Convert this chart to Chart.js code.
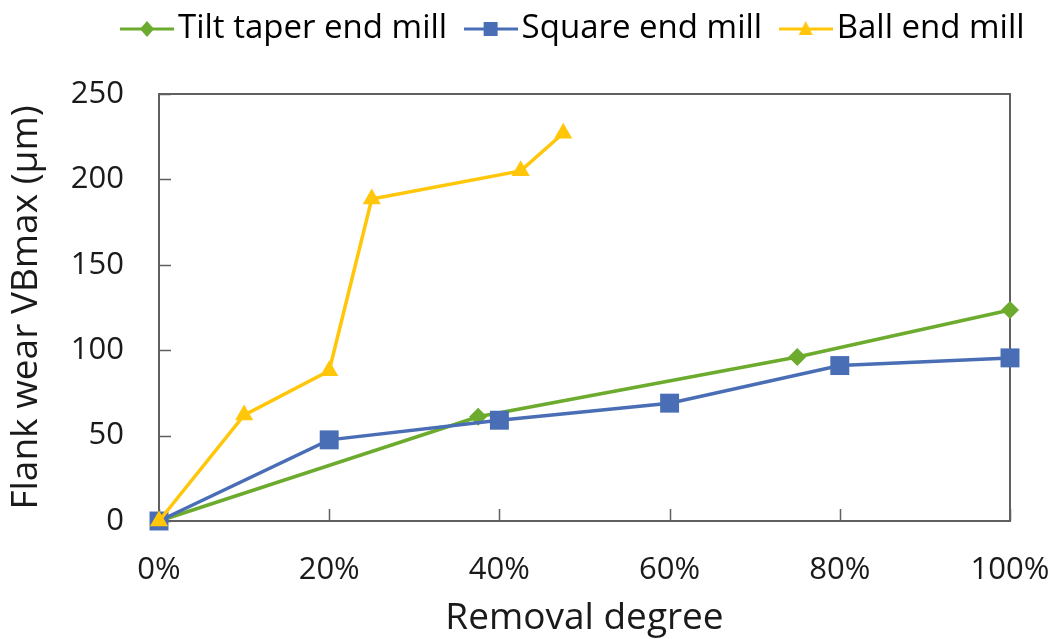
<!DOCTYPE html>
<html>
<head>
<meta charset="utf-8">
<script src="https://cdn.jsdelivr.net/npm/chart.js@4"></script>
<style>
  html, body { margin: 0; padding: 0; background: #fff; }
  #wrap { width: 1058px; height: 639px; }
</style>
</head>
<body>
<div id="wrap"><canvas id="wearChart"></canvas></div>
<script>
// flank wear (um) against removal degree (fraction of the volume)
const TILT_X = [0, 0.375, 0.75, 1.0];
const TILT_Y = [0, 61, 96, 123.5];
const SQUARE_X = [0, 0.2, 0.4, 0.6, 0.8, 1.0];
const SQUARE_Y = [0, 47.5, 59, 69, 91, 95.5];
const BALL_X = [0, 0.1, 0.2, 0.25, 0.425, 0.475];
const BALL_Y = [0, 62, 88, 188.5, 205, 227];

const X_TICKS = [0, 0.2, 0.4, 0.6, 0.8, 1.0];
const Y_TICKS = [0, 50, 100, 150, 200, 250];

const GREEN = "#6cab2e";
const BLUE = "#4a6eb5";
const YELLOW = "#ffc60a";
const AXIS = "#606060";
const FONT = "Open Sans";

function toPoints(xs, ys) {
    return xs.map((x, i) => ({ x: x, y: ys[i] }));
}

// line + marker sample used as the legend symbol
function legendIcon(color, shape) {
    const c = document.createElement("canvas");
    c.width = 54;
    c.height = 20;
    const ctx = c.getContext("2d");
    ctx.strokeStyle = color;
    ctx.fillStyle = color;
    ctx.lineWidth = 3;
    ctx.beginPath();
    ctx.moveTo(0, 10);
    ctx.lineTo(54, 10);
    ctx.stroke();
    ctx.beginPath();
    if (shape === "diamond") {
        ctx.moveTo(27, 2); ctx.lineTo(34, 10); ctx.lineTo(27, 18); ctx.lineTo(20, 10);
    } else if (shape === "square") {
        ctx.rect(20, 3, 14, 14);
    } else {
        ctx.moveTo(27, 2); ctx.lineTo(34, 16); ctx.lineTo(20, 16);
    }
    ctx.closePath();
    ctx.fill();
    return c;
}

const icons = [legendIcon(GREEN, "diamond"), legendIcon(BLUE, "square"), legendIcon(YELLOW, "triangle")];

// plot frame and inward tick marks
const frame = {
    id: "frame",
    beforeDatasetsDraw(chart) {
        const { ctx, chartArea: a, scales } = chart;
        ctx.save();
        ctx.strokeStyle = AXIS;
        ctx.lineWidth = 2;
        ctx.strokeRect(a.left, a.top, a.right - a.left, a.bottom - a.top);
        ctx.lineWidth = 1.5;
        ctx.beginPath();
        X_TICKS.forEach(v => {
            const px = Math.round(scales.x.getPixelForValue(v)) + 0.5;
            ctx.moveTo(px, a.bottom);
            ctx.lineTo(px, a.bottom - 12);
        });
        Y_TICKS.forEach(v => {
            const py = Math.round(scales.y.getPixelForValue(v)) + 0.5;
            ctx.moveTo(a.left, py);
            ctx.lineTo(a.left + 12, py);
        });
        ctx.stroke();
        ctx.restore();
    }
};

// keep the legend on one row and pin its band above the plot
const legendBox = {
    id: "legendBox",
    beforeInit(chart) {
        const fit = chart.legend.fit;
        chart.legend.fit = function () {
            this.maxWidth = 1200;
            fit.call(this);
            this.height = 94;
        };
    },
    afterLayout(chart) {
        chart.legend.left = 103.5;
        chart.legend.right = 1200;
        chart.legend.top = -16.5;
    }
};

new Chart(document.getElementById("wearChart"), {
    type: "line",
    data: {
        datasets: [
            {
                label: "Tilt taper end mill",
                data: toPoints(TILT_X, TILT_Y),
                borderColor: GREEN,
                backgroundColor: GREEN,
                borderWidth: 3.5,
                pointStyle: "rectRot",
                pointRadius: 9,
                pointBorderWidth: 0,
                order: 3,
                clip: false
            },
            {
                label: "Square end mill",
                data: toPoints(SQUARE_X, SQUARE_Y),
                borderColor: BLUE,
                backgroundColor: BLUE,
                borderWidth: 3.5,
                pointStyle: "rect",
                pointRadius: 13.4,
                pointBorderWidth: 0,
                order: 2,
                clip: false
            },
            {
                label: "Ball end mill",
                data: toPoints(BALL_X, BALL_Y),
                borderColor: YELLOW,
                backgroundColor: YELLOW,
                borderWidth: 3.5,
                pointStyle: "triangle",
                pointRadius: 10.5,
                pointBorderWidth: 0,
                order: 1,
                clip: false
            }
        ]
    },
    options: {
        responsive: true,
        maintainAspectRatio: false,
        animation: false,
        events: [],
        layout: { padding: { left: 0, right: 10, top: 0, bottom: 0 } },
        plugins: {
            tooltip: { enabled: false },
            legend: {
                position: "top",
                align: "start",
                labels: {
                    usePointStyle: true,
                    pointStyleWidth: 29,
                    padding: 29,
                    color: "#1a1a1a",
                    font: { family: FONT, size: 33, lineHeight: 1 },
                    sort: (a, b) => a.datasetIndex - b.datasetIndex,
                    generateLabels(chart) {
                        return chart.data.datasets.map((ds, i) => ({
                            text: ds.label,
                            pointStyle: icons[i],
                            fillStyle: ds.borderColor,
                            strokeStyle: ds.borderColor,
                            lineWidth: 0,
                            hidden: false,
                            datasetIndex: i
                        }));
                    }
                }
            }
        },
        scales: {
            x: {
                type: "linear",
                min: 0,
                max: 1,
                afterBuildTicks(scale) {
                    scale.ticks = X_TICKS.map(v => ({ value: v }));
                },
                afterFit(scale) {
                    scale.height = 118;
                    scale.paddingRight = 48;
                },
                grid: { display: false, drawTicks: false },
                border: { display: false },
                ticks: {
                    padding: 31,
                    color: "#1a1a1a",
                    font: { family: FONT, size: 31 },
                    maxRotation: 0,
                    callback: v => Math.round(v * 100) + "%"
                },
                title: {
                    display: true,
                    text: "Removal degree",
                    color: "#1a1a1a",
                    font: { family: FONT, size: 37, lineHeight: 1 },
                    padding: { top: 0, bottom: 2 }
                }
            },
            y: {
                min: 0,
                max: 250,
                afterBuildTicks(scale) {
                    scale.ticks = Y_TICKS.map(v => ({ value: v }));
                },
                afterFit(scale) {
                    scale.width = 159;
                },
                grid: { display: false, drawTicks: false },
                border: { display: false },
                ticks: {
                    padding: 35,
                    color: "#1a1a1a",
                    font: { family: FONT, size: 31 }
                },
                title: {
                    display: true,
                    text: "Flank wear VBmax (μm)",
                    color: "#1a1a1a",
                    font: { family: FONT, size: 37, lineHeight: 1 },
                    padding: { top: 8, bottom: 0 }
                }
            }
        }
    },
    plugins: [frame, legendBox]
});
</script>
</body>
</html>
